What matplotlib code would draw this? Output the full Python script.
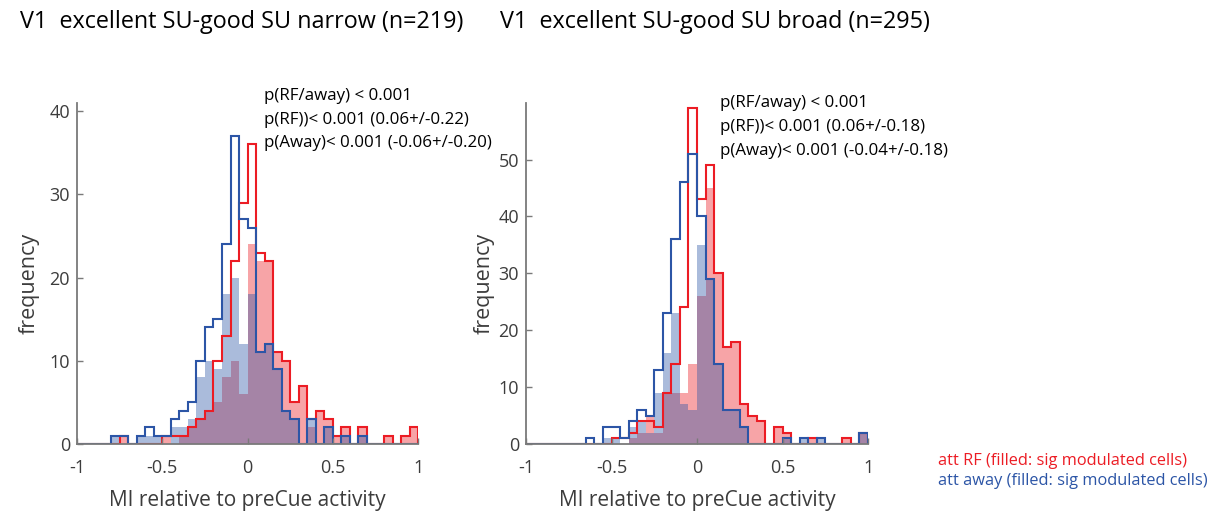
import numpy as np
import matplotlib
matplotlib.use('Agg')
import matplotlib.pyplot as plt

plt.rcParams['font.family'] = ['Open Sans', 'DejaVu Sans']

# 40 bins of width 0.05 from -1 to 1
bin_edges = np.linspace(-1, 1, 41)

# narrow cells (n=219)
narrow_rf_all = [0, 0, 0, 0, 0, 1, 0, 0, 0, 0,
                 1, 1, 1, 2, 3, 4, 10, 13, 22, 29,
                 36, 23, 22, 11, 10, 5, 7, 3, 4, 3,
                 1, 2, 0, 2, 0, 0, 1, 0, 1, 2]
narrow_rf_sig = [0, 0, 0, 0, 0, 1, 0, 0, 0, 0,
                 1, 0, 1, 2, 3, 4, 5, 8, 10, 6,
                 24, 22, 22, 11, 10, 5, 7, 2, 4, 3,
                 1, 2, 0, 2, 0, 0, 1, 0, 1, 2]
narrow_away_all = [0, 0, 0, 0, 1, 1, 0, 1, 2, 1,
                   1, 3, 4, 5, 10, 14, 15, 24, 37, 27,
                   26, 11, 12, 9, 4, 3, 0, 3, 0, 2,
                   0, 1, 0, 1, 0, 0, 0, 0, 0, 0]
narrow_away_sig = [0, 0, 0, 0, 1, 0, 0, 1, 1, 1,
                   0, 2, 2, 3, 8, 10, 9, 18, 20, 12,
                   18, 11, 12, 9, 4, 3, 0, 3, 0, 2,
                   0, 1, 0, 1, 0, 0, 0, 0, 0, 0]

# broad cells (n=295)
broad_rf_all = [0, 0, 0, 0, 0, 0, 0, 0, 0, 0,
                1, 1, 2, 4, 4, 3, 9, 14, 24, 59,
                43, 49, 30, 17, 18, 7, 5, 4, 0, 3,
                2, 0, 0, 1, 0, 0, 0, 1, 0, 2]
broad_rf_sig = [0, 0, 0, 0, 0, 0, 0, 0, 0, 0,
                0, 0, 1, 2, 5, 2, 9, 9, 9, 14,
                26, 45, 30, 17, 18, 7, 5, 4, 0, 3,
                2, 0, 0, 1, 0, 0, 0, 1, 0, 2]
broad_away_all = [0, 0, 0, 0, 0, 0, 0, 1, 0, 3,
                  3, 1, 4, 6, 5, 13, 23, 36, 46, 51,
                  40, 29, 14, 6, 6, 3, 0, 0, 0, 0,
                  1, 0, 1, 0, 1, 0, 0, 0, 0, 2]
broad_away_sig = [0, 0, 0, 0, 0, 0, 0, 0, 0, 1,
                  1, 0, 3, 4, 2, 9, 16, 23, 7, 6,
                  35, 29, 14, 6, 6, 3, 0, 0, 0, 0,
                  1, 0, 1, 0, 1, 0, 0, 0, 0, 2]

titles = ['V1  excellent SU-good SU narrow (n=219)',
          'V1  excellent SU-good SU broad (n=295)']
stats_narrow = ['p(RF/away) < 0.001',
                'p(RF))< 0.001 (0.06+/-0.22)',
                'p(Away)< 0.001 (-0.06+/-0.20)']
stats_broad = ['p(RF/away) < 0.001',
               'p(RF))< 0.001 (0.06+/-0.18)',
               'p(Away)< 0.001 (-0.04+/-0.18)']

red = '#ec1c24'
blue = '#2c55a6'
axis_grey = '#7a7a7a'
label_grey = '#3c3c3c'

fig = plt.figure(figsize=(12.25, 5.14), dpi=100)
ax1 = fig.add_axes([0.0629, 0.1362, 0.2784, 0.664])
ax2 = fig.add_axes([0.4294, 0.1362, 0.2792, 0.664])


def draw_panel(ax, rf_all, rf_sig, away_all, away_sig, ymax, yticks):
    ax.stairs(rf_sig, bin_edges, fill=True, color=red, alpha=0.4, lw=0)
    ax.stairs(away_sig, bin_edges, fill=True, color=blue, alpha=0.4, lw=0)
    ax.stairs(rf_all, bin_edges, color=red, lw=1.5, baseline=0)
    ax.stairs(away_all, bin_edges, color=blue, lw=1.5, baseline=0)
    ax.set_xlim(-1, 1)
    ax.set_ylim(0, ymax)
    ax.set_xticks([-1, -0.5, 0, 0.5, 1])
    ax.set_xticklabels(['-1', '-0.5', '0', '0.5', '1'])
    ax.set_yticks(yticks)
    for s in ['top', 'right']:
        ax.spines[s].set_visible(False)
    for s in ['left', 'bottom']:
        ax.spines[s].set_color(axis_grey)
        ax.spines[s].set_linewidth(1.3)
    ax.tick_params(direction='in', length=4, width=1, color=axis_grey,
                   labelsize=13, labelcolor=label_grey)
    ax.tick_params(axis='x', pad=11)
    ax.tick_params(axis='y', pad=5)
    ax.set_xlabel('MI relative to preCue activity', fontsize=15,
                  color=label_grey, labelpad=9)
    ax.set_ylabel('frequency', fontsize=15.5, color=label_grey)


draw_panel(ax1, narrow_rf_all, narrow_rf_sig, narrow_away_all, narrow_away_sig,
           41, [0, 10, 20, 30, 40])
draw_panel(ax2, broad_rf_all, broad_rf_sig, broad_away_all, broad_away_sig,
           60, [0, 10, 20, 30, 40, 50])
ax1.yaxis.set_label_coords(-0.109, 0.47)
ax2.yaxis.set_label_coords(-0.092, 0.47)

fig.text(20 / 1225, 1 - 22 / 514, titles[0], fontsize=16.8, va='center', ha='left')
fig.text(500 / 1225, 1 - 22 / 514, titles[1], fontsize=16.8, va='center', ha='left')

for i, line in enumerate(stats_narrow):
    fig.text(264 / 1225, 1 - (96 + 23.5 * i) / 514, line, fontsize=12.2,
             va='center', ha='left')
for i, line in enumerate(stats_broad):
    fig.text(720 / 1225, 1 - (103 + 24 * i) / 514, line, fontsize=12.2,
             va='center', ha='left')

fig.text(938 / 1225, 1 - 461 / 514, 'att RF (filled: sig modulated cells)',
         color=red, fontsize=11.8, va='center', ha='left')
fig.text(938 / 1225, 1 - 481 / 514, 'att away (filled: sig modulated cells)',
         color=blue, fontsize=11.8, va='center', ha='left')

fig.savefig('out.png', dpi=100)
